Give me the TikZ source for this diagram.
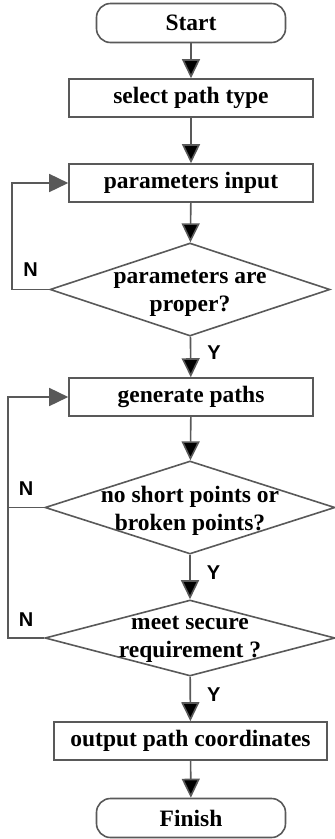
\documentclass[tikz,border=0pt]{standalone}
\usepackage{fontspec}
\setmainfont{Liberation Serif}
\setsansfont{Liberation Sans}
\usetikzlibrary{arrows.meta,shapes.geometric}

\begin{document}
\begin{tikzpicture}[x=1pt,y=-1pt,
        font=\fontsize{23.5}{28}\selectfont\bfseries,
        line/.style={draw=black!65,line width=1.6pt},
        arrow/.style={line,-{Triangle[length=19pt,width=18pt]}},
        term node/.style={rectangle,rounded corners=14pt,line,fill=white,
          minimum width=189pt,minimum height=39pt,inner sep=0pt},
        box node/.style={rectangle,line,fill=white,
          minimum width=244pt,minimum height=38pt,inner sep=0pt},
        decision/.style={diamond,line,fill=white,
          minimum width=290pt,minimum height=93pt,inner sep=0pt},
        yn/.style={font=\sffamily\bfseries\fontsize{20}{20}\selectfont,inner sep=0pt}]

        \useasboundingbox (0,0) rectangle (335,839);

        % main column
        \node[term node] (start) at (191,23) {Start};
        \node[box node] (select) at (191,98) {select path type};
        \node[box node] (params) at (191,183) {parameters input};
        \node[decision,minimum width=280pt,
          label={[align=center,yshift=-4pt]center:parameters are\\proper?}] (check1) at (190,289.5) {};
        \node[box node] (gen) at (191,397) {generate paths};
        \node[decision,
          label={[align=center,yshift=-3pt]center:no short points or\\broken points?}] (check2) at (190,507.5) {};
        \node[decision,minimum height=76pt,
          label={[align=center,yshift=-1pt]center:meet secure\\requirement ?}] (check3) at (190,638) {};
        \node[box node,minimum width=273pt] (output) at (190.5,741) {output path coordinates};
        \node[term node] (finish) at (191,818) {Finish};

        % loop-back lines on the left
        \coordinate (back1) at (12,0);
        \coordinate (back2) at (8,0);

        \path[arrow]
          (start) edge (select)
          (select) edge (params)
          (params) edge (check1)
          (check1) edge node[yn,right=16pt,pos=0.4] {Y} (gen)
          (gen) edge (check2)
          (check2) edge node[yn,right=16pt,pos=0.4] {Y} (check3)
          (check3) edge node[yn,right=16pt,pos=0.4] {Y} (output)
          (output) edge (finish);

        \draw[arrow] (check1.west) -- node[yn,above=12pt] {N} (check1.west -| back1) |- (params.west);
        \draw[line] (check2.west) -- node[yn,above=11pt] {N} (check2.west -| back2);
        \draw[arrow] (check3.west) -- node[yn,above=11pt] {N} (check3.west -| back2) |- (gen.west);
      \end{tikzpicture}
\end{document}
